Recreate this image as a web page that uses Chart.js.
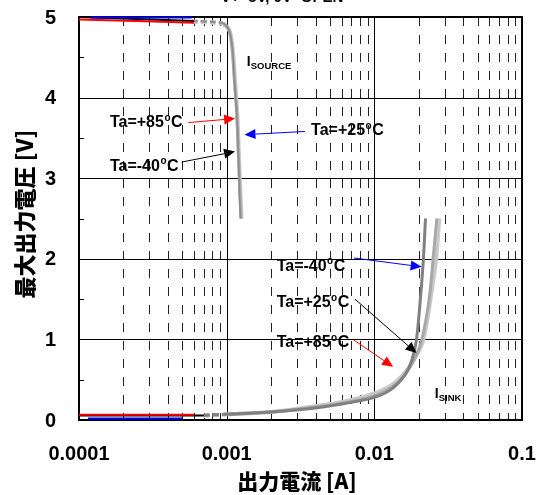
<!DOCTYPE html>
<html><head><meta charset="utf-8">
<script src="https://cdn.jsdelivr.net/npm/chart.js@4/dist/chart.umd.min.js"></script>
<style>html,body{margin:0;padding:0;background:#fff;}canvas{display:block;}</style>
</head><body>
<canvas id="c" width="545" height="495"></canvas>
<script>
// ---- data ----
const titleText = "V+=5V, 0V=OPEN";
const xTitle = "出力電流 [A]";
const yTitle = "最大出力電圧 [V]";
const xTickValues = [0.0001, 0.001, 0.01, 0.1];
const xTickLabels = ["0.0001", "0.001", "0.01", "0.1"];
const yTickValues = [0, 1, 2, 3, 4, 5];
const yTickLabels = ["0", "1", "2", "3", "4", "5"];

// source side, coloured low-current parts
const srcRedX = [0.0001, 0.0006];       const srcRedY = [4.97, 4.93];
const srcBlackX = [0.0001, 0.0006];     const srcBlackY = [5.0, 4.95];
const srcBlueX = [0.00012, 0.00058];    const srcBlueY = [4.995, 4.995];
// source side, gray curves
const srcLightX = [0.00058, 0.0008, 0.00095, 0.00105, 0.0011, 0.00114, 0.00118, 0.00121, 0.00124, 0.00126];
const srcLightY = [4.94, 4.93, 4.91, 4.82, 4.6, 4.2, 3.8, 3.3, 2.8, 2.5];
const srcMidX = [0.00058, 0.0008, 0.00095, 0.00104, 0.00109, 0.00113, 0.00117, 0.0012, 0.00123, 0.00125];
const srcMidY = [4.95, 4.94, 4.92, 4.83, 4.6, 4.2, 3.8, 3.3, 2.8, 2.5];
const srcDarkX = [0.00058, 0.0008, 0.00095, 0.00104, 0.00109, 0.00113, 0.00117, 0.0012, 0.00122, 0.00124];
const srcDarkY = [4.95, 4.94, 4.92, 4.84, 4.62, 4.2, 3.8, 3.3, 2.8, 2.5];

// sink side, coloured low-current parts
const snkRedX = [0.0001, 0.0006];       const snkRedY = [0.066, 0.066];
const snkBlackX = [0.0001, 0.0007];     const snkBlackY = [0.055, 0.055];
const snkBlueX = [0.000115, 0.0005];    const snkBlueY = [0.02, 0.02];
// sink side, gray curves
const snkDarkX = [0.0007, 0.00095, 0.001, 0.002, 0.004, 0.007, 0.01, 0.013, 0.016, 0.018, 0.0193, 0.0205, 0.0215, 0.0222];
const snkDarkY = [0.06, 0.068, 0.07, 0.1, 0.15, 0.22, 0.28, 0.38, 0.55, 0.75, 1.0, 1.5, 2.0, 2.5];
const snkMidX = [0.0007, 0.00095, 0.001, 0.002, 0.004, 0.007, 0.01, 0.013, 0.016, 0.019, 0.021, 0.0235, 0.025, 0.0265];
const snkMidY = [0.06, 0.072, 0.075, 0.1, 0.16, 0.23, 0.3, 0.4, 0.55, 0.78, 1.0, 1.5, 2.0, 2.5];
const snkLightX = [0.0007, 0.00095, 0.001, 0.002, 0.004, 0.007, 0.01, 0.013, 0.016, 0.019, 0.0215, 0.024, 0.0262, 0.0275];
const snkLightY = [0.05, 0.068, 0.07, 0.1, 0.17, 0.25, 0.33, 0.43, 0.58, 0.78, 1.0, 1.5, 2.0, 2.5];

// annotations (data coordinates)
const notes = [
  {t1: "Ta=+85", t2: "C", x: 0.000162, y: 3.70},
  {t1: "Ta=+25", t2: "C", x: 0.00373, y: 3.60},
  {t1: "Ta=-40", t2: "C", x: 0.000162, y: 3.16},
  {t1: "Ta=-40", t2: "C", x: 0.00218, y: 1.92},
  {t1: "Ta=+25", t2: "C", x: 0.00218, y: 1.47},
  {t1: "Ta=+85", t2: "C", x: 0.00218, y: 0.97}
];
const arrows = [
  {x0: 0.00055, y0: 3.69, x1: 0.00114, y1: 3.74, c: "#ff0000"},
  {x0: 0.00339, y0: 3.58, x1: 0.00132, y1: 3.54, c: "#0000ff"},
  {x0: 0.000495, y0: 3.20, x1: 0.00114, y1: 3.33, c: "#000000"},
  {x0: 0.00729, y0: 2.01, x1: 0.0209, y1: 1.90, c: "#0000ff"},
  {x0: 0.00739, y0: 1.50, x1: 0.0193, y1: 0.83, c: "#000000"},
  {x0: 0.00729, y0: 0.99, x1: 0.0134, y1: 0.66, c: "#ff0000"}
];
const subLabels = [
  {main: "I", sub: "SOURCE", x: 0.00137, y: 4.45},
  {main: "I", sub: "SINK", x: 0.0257, y: 0.34}
];

function pts(xs, ys) { return xs.map((x, i) => ({x: x, y: ys[i]})); }
const dashSeg = {borderDash: c => (c.p1.parsed.x <= 0.00096 ? [6, 3] : undefined)};

function ds(xs, ys, color, w, order, seg) {
  const d = {data: pts(xs, ys), borderColor: color, borderWidth: w, showLine: true,
    pointRadius: 0, fill: false, tension: 0.3, order: order, clip: 4,
    borderCapStyle: 'butt', borderJoinStyle: 'round'};
  if (seg) d.segment = dashSeg;
  return d;
}

const datasets = [
  ds(srcLightX, srcLightY, "#c8c8c8", 4, 5, true),
  ds(srcMidX, srcMidY, "#a8a8a8", 3, 4, true),
  ds(srcDarkX, srcDarkY, "#8c8c8c", 1.5, 3, true),
  ds(snkLightX, snkLightY, "#c8c8c8", 4, 5, true),
  ds(snkMidX, snkMidY, "#a8a8a8", 3, 4, true),
  ds(snkDarkX, snkDarkY, "#808080", 3, 3, true),
  ds(srcBlueX, srcBlueY, "#0000ff", 2, 0),
  ds(srcRedX, srcRedY, "#ff0000", 2, 0),
  ds(srcBlackX, srcBlackY, "#000000", 2, 0),
  ds(snkBlueX, snkBlueY, "#0000ff", 2, 0),
  ds(snkRedX, snkRedY, "#ff0000", 2, 0),
  ds(snkBlackX, snkBlackY, "#000000", 2, 0)
];

const LATIN = "'Liberation Sans', Arial, sans-serif";
const CJK = "'Noto Sans CJK JP', 'Noto Sans CJK SC', sans-serif";

const decor = {
  id: 'decor',
  beforeDatasetsDraw(chart) {
    const {ctx, chartArea: a, scales: {x, y}} = chart;
    ctx.save();
    ctx.strokeStyle = "#222"; ctx.lineWidth = 1;
    ctx.setLineDash([9, 9]);
    for (let d = -4; d < -1; d++) {
      for (let m = 2; m <= 9; m++) {
        const px = Math.round(x.getPixelForValue(m * Math.pow(10, d))) + 0.5;
        ctx.beginPath(); ctx.moveTo(px, a.top); ctx.lineTo(px, a.bottom); ctx.stroke();
      }
    }
    ctx.setLineDash([]);
    ctx.strokeStyle = "#000";
    xTickValues.forEach(v => {
      const px = Math.round(x.getPixelForValue(v)) + 0.5;
      ctx.beginPath(); ctx.moveTo(px, a.top); ctx.lineTo(px, a.bottom); ctx.stroke();
    });
    yTickValues.forEach(v => {
      const py = Math.round(y.getPixelForValue(v)) + 0.5;
      ctx.beginPath(); ctx.moveTo(a.left, py); ctx.lineTo(a.right, py); ctx.stroke();
    });
    // frame
    ctx.lineWidth = 2;
    ctx.strokeRect(a.left, a.top, a.right - a.left, a.bottom - a.top);
    ctx.lineWidth = 1;
    for (let v = 0.5; v < 5; v += 1) {
      const py = Math.round(y.getPixelForValue(v)) + 0.5;
      ctx.beginPath(); ctx.moveTo(a.left, py); ctx.lineTo(a.left + 5, py); ctx.stroke();
    }
    ctx.restore();
  },
  afterDatasetsDraw(chart) {
    const {ctx, chartArea: a, scales: {x, y}} = chart;
    ctx.save();
    // tick labels
    ctx.fillStyle = "#000";
    ctx.font = "bold 20px " + LATIN;
    ctx.textBaseline = "middle";
    ctx.textAlign = "center";
    xTickValues.forEach((v, i) => ctx.fillText(xTickLabels[i], x.getPixelForValue(v), 454));
    ctx.textAlign = "right";
    yTickValues.forEach((v, i) => ctx.fillText(yTickLabels[i], 56, y.getPixelForValue(v) + 1));
    // arrows
    arrows.forEach(ar => {
      const x0 = x.getPixelForValue(ar.x0), y0 = y.getPixelForValue(ar.y0);
      const x1 = x.getPixelForValue(ar.x1), y1 = y.getPixelForValue(ar.y1);
      const ang = Math.atan2(y1 - y0, x1 - x0);
      const L = 11, W = 5;
      const bx = x1 - L * Math.cos(ang), by = y1 - L * Math.sin(ang);
      ctx.strokeStyle = ar.c; ctx.fillStyle = ar.c; ctx.lineWidth = 1;
      ctx.beginPath(); ctx.moveTo(x0, y0); ctx.lineTo(bx, by); ctx.stroke();
      ctx.beginPath();
      ctx.moveTo(x1, y1);
      ctx.lineTo(bx + W * Math.sin(ang), by - W * Math.cos(ang));
      ctx.lineTo(bx - W * Math.sin(ang), by + W * Math.cos(ang));
      ctx.closePath(); ctx.fill();
    });
    ctx.fillStyle = "#000"; ctx.textBaseline = "alphabetic"; ctx.textAlign = "left";
    notes.forEach(n => {
      let px = x.getPixelForValue(n.x);
      const base = y.getPixelForValue(n.y) + 5.5;
      ctx.font = "bold 16px " + LATIN;
      ctx.fillText(n.t1, px, base); px += ctx.measureText(n.t1).width + 0.5;
      ctx.font = "bold 10px " + LATIN;
      ctx.fillText("o", px, base - 6.5); px += ctx.measureText("o").width + 0.5;
      ctx.font = "bold 16px " + LATIN;
      ctx.fillText(n.t2, px, base);
    });
    subLabels.forEach(s => {
      let px = x.getPixelForValue(s.x);
      const base = y.getPixelForValue(s.y) + 5;
      ctx.font = "bold 14px " + LATIN;
      ctx.fillText(s.main, px, base); px += ctx.measureText(s.main).width;
      ctx.font = "bold 9.5px " + LATIN;
      ctx.fillText(s.sub, px, base + 3);
    });
    ctx.font = "bold 15px " + LATIN;
    ctx.textAlign = "center";
    ctx.fillText(titleText, 282, 2);
    ctx.font = "900 21px " + CJK;
    ctx.textBaseline = "middle";
    ctx.fillText(xTitle, 297, 481);
    ctx.translate(25, 214);
    ctx.rotate(-Math.PI / 2);
    ctx.font = "900 22px " + CJK;
    ctx.fillText(yTitle, 0, 0);
    ctx.restore();
  }
};

new Chart(document.getElementById('c'), {
  type: 'scatter',
  data: {datasets: datasets},
  options: {
    responsive: false, animation: false, devicePixelRatio: 1,
    layout: {padding: {top: 17, right: 23, left: 0, bottom: 0}},
    plugins: {legend: {display: false}, tooltip: {enabled: false}, title: {display: false}},
    scales: {
      x: {
        type: 'logarithmic', min: 0.0001, max: 0.1,
        grid: {display: false, drawTicks: false}, border: {display: false},
        afterBuildTicks: s => { s.ticks = xTickValues.map(v => ({value: v})); },
        afterFit: s => { s.height = 75; },
        ticks: {display: false}
      },
      y: {
        min: 0, max: 5,
        grid: {display: false, drawTicks: false}, border: {display: false},
        afterBuildTicks: s => { s.ticks = yTickValues.map(v => ({value: v})); },
        afterFit: s => { s.width = 79; },
        ticks: {display: false}
      }
    }
  },
  plugins: [decor]
});
</script>
</body></html>
